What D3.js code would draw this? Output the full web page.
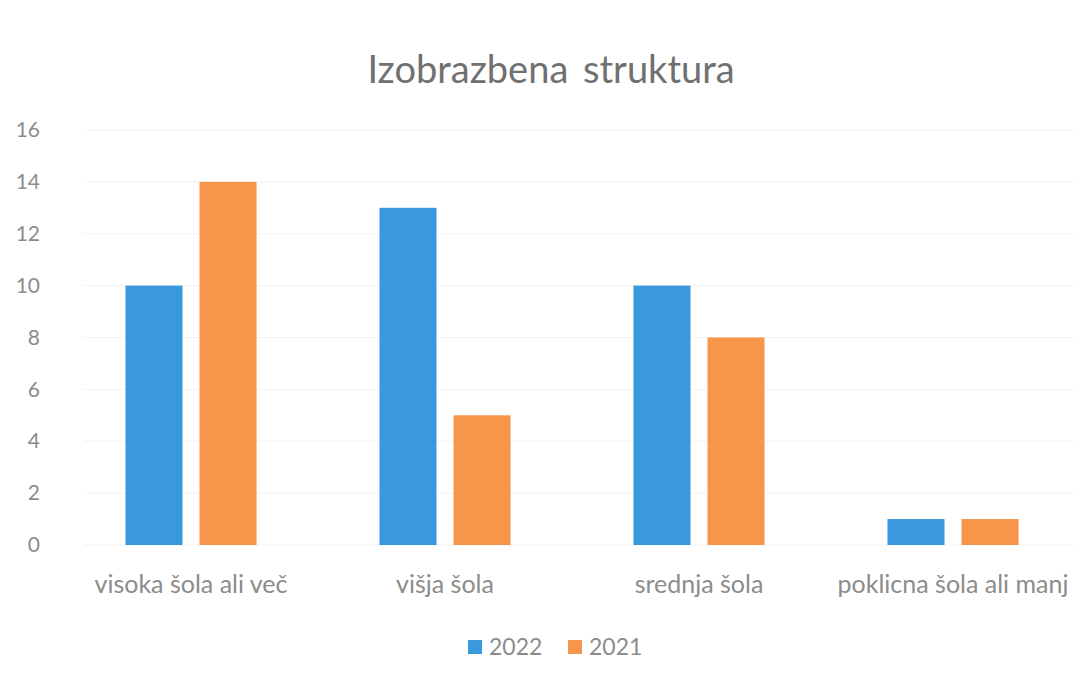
<!DOCTYPE html>
<html>
<head>
<meta charset="utf-8">
<script src="https://cdn.jsdelivr.net/npm/d3@7"></script>
<style>
  body { margin: 0; background: #fff; }
  text { font-family: Lato, "Open Sans", sans-serif; }
</style>
</head>
<body>
<div id="chart"></div>
<script>
// data
var categories = ["visoka šola ali več", "višja šola", "srednja šola", "poklicna šola ali manj"];
var seriesNames = ["2022", "2021"];
var values2022 = [10, 13, 10, 1];
var values2021 = [14, 5, 8, 1];
var yTicks = [0, 2, 4, 6, 8, 10, 12, 14, 16];
var colors = ["#3a98de", "#f7954a"];

var svgWidth = 1074;
var svgHeight = 685;

var margin = {top: 130, right: -6, bottom: 140, left: 64};
var chartWidth = svgWidth - margin.left - margin.right;
var chartHeight = svgHeight - margin.top - margin.bottom;

var svg = d3.select("#chart")
  .append("svg")
  .attr("width", svgWidth)
  .attr("height", svgHeight);

var chartGroup = svg.append("g")
  .attr("transform", `translate(${margin.left}, ${margin.top})`);

var table = categories.map(function(c, i) {
  return {cat: c, vals: [values2022[i], values2021[i]]};
});

var xScale = d3.scaleBand()
  .domain(categories)
  .range([0, chartWidth])
  .paddingInner(0.484)
  .paddingOuter(0.242);

var xSub = d3.scaleBand()
  .domain(seriesNames)
  .range([0, xScale.bandwidth()])
  .paddingInner(0.23);

var yScale = d3.scaleLinear()
  .domain([0, 16])
  .range([chartHeight, 0]);

// gridlines
chartGroup.append("g")
  .selectAll("line")
  .data(yTicks)
  .enter()
  .append("line")
  .attr("x1", 20)
  .attr("x2", chartWidth)
  .attr("y1", d => yScale(d))
  .attr("y2", d => yScale(d))
  .attr("stroke", "#f2f2f2")
  .attr("stroke-width", 1);

// y axis labels
var yAxis = d3.axisLeft(yScale).tickValues(yTicks).tickSize(0).tickPadding(0);
chartGroup.append("g")
  .attr("transform", "translate(-24, 0)")
  .call(yAxis)
  .call(g => g.select(".domain").remove())
  .selectAll("text")
  .attr("fill", "#8c8c8c")
  .attr("font-size", "21px")
  .style("font-family", "Lato, sans-serif");

// bars
var groups = chartGroup.selectAll(".grp")
  .data(table)
  .enter()
  .append("g")
  .attr("transform", d => `translate(${xScale(d.cat)}, 0)`);

groups.selectAll("rect")
  .data(d => d.vals.map((v, i) => ({key: seriesNames[i], value: v, i: i})))
  .enter()
  .append("rect")
  .attr("x", d => xSub(d.key))
  .attr("width", xSub.bandwidth())
  .attr("y", d => yScale(d.value))
  .attr("height", d => chartHeight - yScale(d.value))
  .attr("fill", d => colors[d.i]);

// x axis labels
var xAxis = d3.axisBottom(xScale).tickSize(0).tickPadding(0);
chartGroup.append("g")
  .attr("transform", `translate(0, ${chartHeight + 48})`)
  .call(xAxis)
  .call(g => g.select(".domain").remove())
  .selectAll("text")
  .attr("fill", "#8c8c8c")
  .attr("font-size", "25px")
  .attr("dy", 0)
  .style("font-family", "Lato, sans-serif");

// title
svg.append("text")
  .attr("x", 551)
  .attr("y", 83)
  .attr("text-anchor", "middle")
  .attr("fill", "#707070")
  .attr("font-size", "38px")
  .style("word-spacing", "5px")
  .text("Izobrazbena struktura");

// legend
var legend = svg.append("g")
  .attr("transform", "translate(468, 655)");

var legendItems = legend.selectAll("g")
  .data(seriesNames)
  .enter()
  .append("g")
  .attr("transform", (d, i) => `translate(${i * 100}, 0)`);

legendItems.append("rect")
  .attr("x", 0)
  .attr("y", -15)
  .attr("width", 14)
  .attr("height", 14)
  .attr("fill", (d, i) => colors[i]);

legendItems.append("text")
  .attr("x", 21)
  .attr("y", 0)
  .attr("fill", "#8c8c8c")
  .attr("font-size", "23px")
  .text(d => d);
</script>
</body>
</html>
